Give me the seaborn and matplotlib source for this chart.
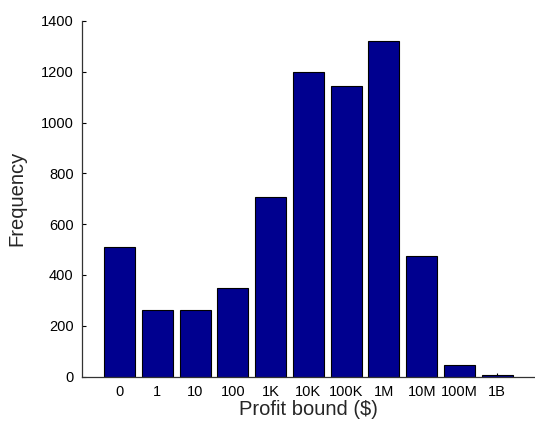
import pandas as pd
import matplotlib
matplotlib.use('Agg')
import matplotlib.pyplot as plt
import seaborn as sns

# profit bound histogram data
bounds = ['0', '1', '10', '100', '1K', '10K', '100K', '1M', '10M', '100M', '1B']
counts = [511, 261, 264, 348, 706, 1200, 1145, 1320, 476, 46, 5]

sns.set_style('ticks')
plt.rcParams['font.family'] = ['Liberation Sans', 'DejaVu Sans']

df = pd.DataFrame({'bound': bounds, 'count': counts})

fig = plt.figure(figsize=(5.35, 4.26), dpi=100)
ax = fig.add_axes([0.153, 0.116, 0.847, 0.835])

sns.barplot(data=df, x='bound', y='count', color='#00008F', saturation=1,
            edgecolor='black', linewidth=0.8, width=0.82, ax=ax)

ax.set_xlim(-1, 11)
ax.set_ylim(0, 1400)
ax.set_yticks(range(0, 1401, 200))
ax.set_xlabel('Profit bound ($)', fontsize=14.5, labelpad=1)
ax.set_ylabel('Frequency', fontsize=14.5, labelpad=10)
ax.tick_params(direction='in', length=3, labelsize=10.5, width=0.8, colors='black')
ax.tick_params(axis='x', pad=6)
ax.tick_params(axis='y', pad=6)

sns.despine(ax=ax, top=True, right=True)
for side in ['left', 'bottom']:
    ax.spines[side].set_color('#333333')
    ax.spines[side].set_linewidth(0.9)

fig.savefig('out.png', dpi=100)
